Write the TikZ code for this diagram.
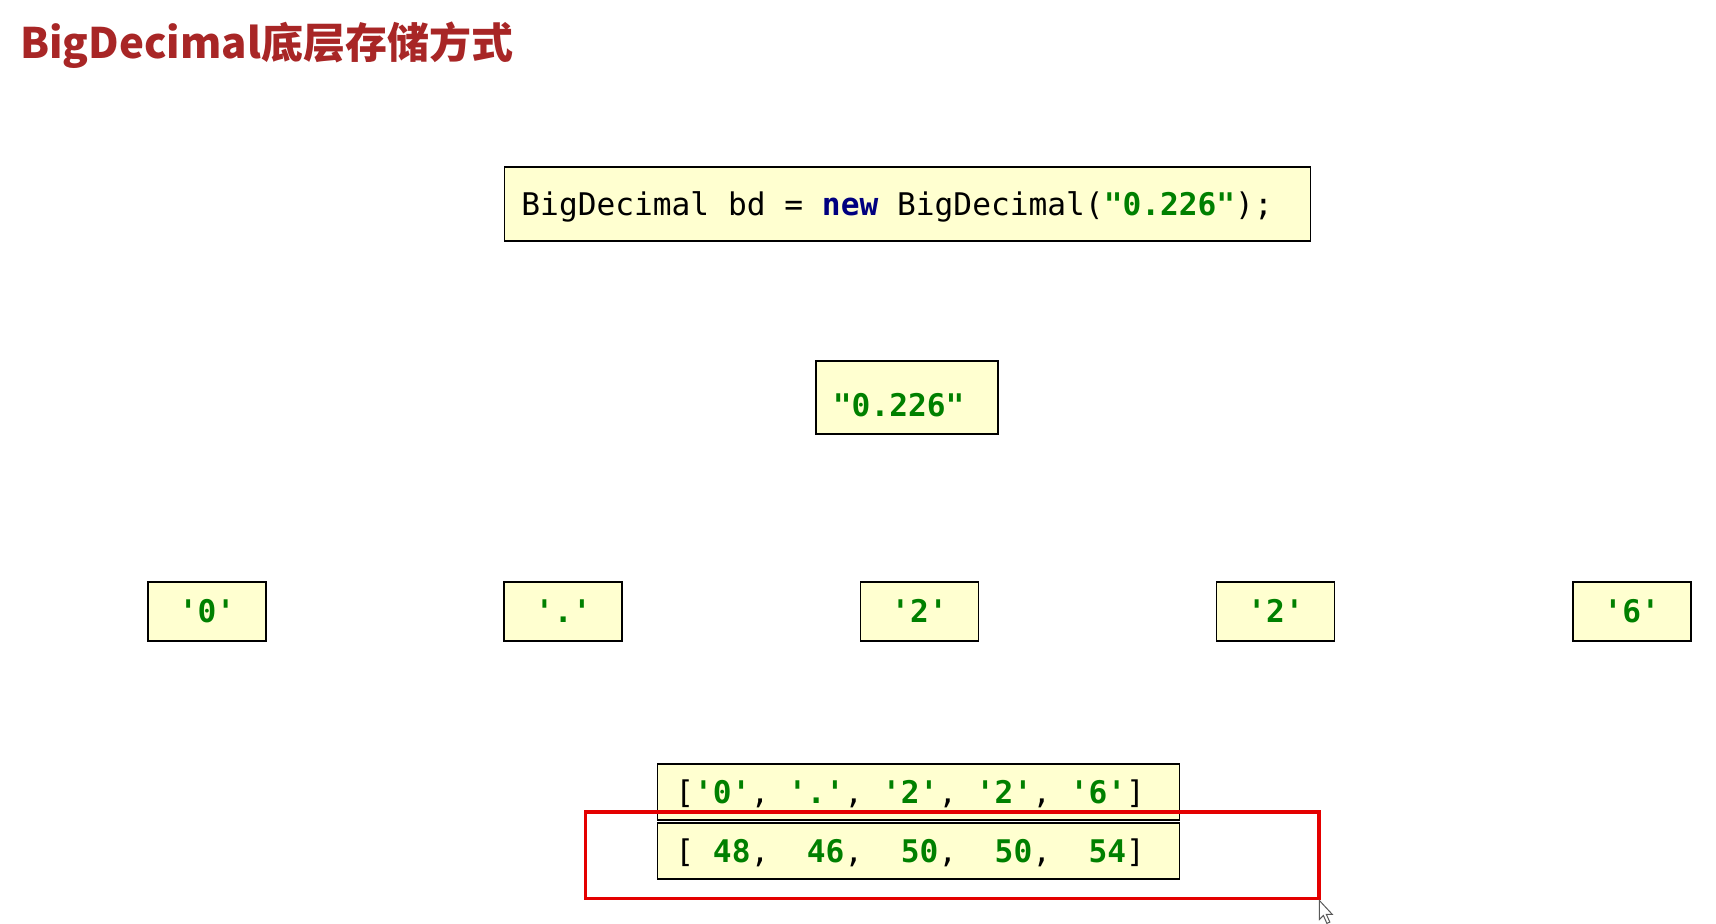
\documentclass[tikz,border=0pt]{standalone}
\usepackage{fontspec}
\setmonofont{DejaVu Sans Mono}
\newfontfamily\cjk{Noto Sans CJK SC}
\definecolor{titlered}{RGB}{168,38,38}
\definecolor{strgreen}{RGB}{0,128,0}
\definecolor{kwnavy}{RGB}{0,0,128}
\definecolor{boxfill}{RGB}{255,255,208}
\definecolor{hilite}{RGB}{228,0,0}
\newcommand\codefnt{\ttfamily\fontsize{31.2}{36}\selectfont
	\fontdimen2\font=0.602em\fontdimen3\font=0pt\fontdimen4\font=0pt}
\newcommand\jstr[1]{\textcolor{strgreen}{\bfseries #1}}
\newcommand\jkw[1]{\textcolor{kwnavy}{\bfseries #1}}
\begin{document}
\begin{tikzpicture}[x=0.995pt,y=-0.995pt,
	box/.style={draw=black,line width=1.7pt,fill=boxfill,font=\codefnt,text height=22.8pt,text depth=0pt,inner ysep=0pt},
	chr/.style={box,minimum width=118pt,minimum height=59pt,align=center},
	arr/.style={box,minimum width=522pt,minimum height=56pt,text width=486pt,inner xsep=18pt,align=flush left}]
	\useasboundingbox[fill=white] (0,0) rectangle (1724.6,928.6);
	\node[anchor=base west,inner sep=0pt,text=titlered,font=\cjk\bfseries\fontsize{42}{48}\selectfont] (title) at (20,59) {BigDecimal底层存储方式};
	\node[box,minimum width=806pt,minimum height=74pt,text width=772pt,inner xsep=17pt,align=flush left] (code) at (912,205)
		{BigDecimal bd = \jkw{new} BigDecimal(\jstr{"0.226"});};
	\node[box,minimum width=182pt,minimum height=73pt,text width=148pt,inner xsep=17pt,align=flush left,text height=38.8pt] (lit) at (911.5,399.5) {\jstr{"0.226"}};
	\foreach \c [count=\i] in {0,.,2,2,6}
		\node[chr] (c\i) at ({208+358*(\i-1)},614.5) {\jstr{'\c'}};
	\node[arr] (chars) at (923,796) {[\jstr{'0'}, \jstr{'.'}, \jstr{'2'}, \jstr{'2'}, \jstr{'6'}]};
	\node[arr] (bytes) at (923,855) {[~\jstr{48},~~\jstr{46},~~\jstr{50},~~\jstr{50},~~\jstr{54}]};
	\draw[hilite,line width=3.5pt] (588.5,816) rectangle (1325.5,903);
	%\draw (bytes.south) node[below] {};
	\draw[fill=white,draw=gray!70!black,line width=1pt] (1326,905) -- ++(0,19) -- ++(4,-4) -- ++(3.5,8) -- ++(3,-1.3) -- ++(-3.5,-7.7) -- ++(6,0) -- cycle;
\end{tikzpicture}
\end{document}
